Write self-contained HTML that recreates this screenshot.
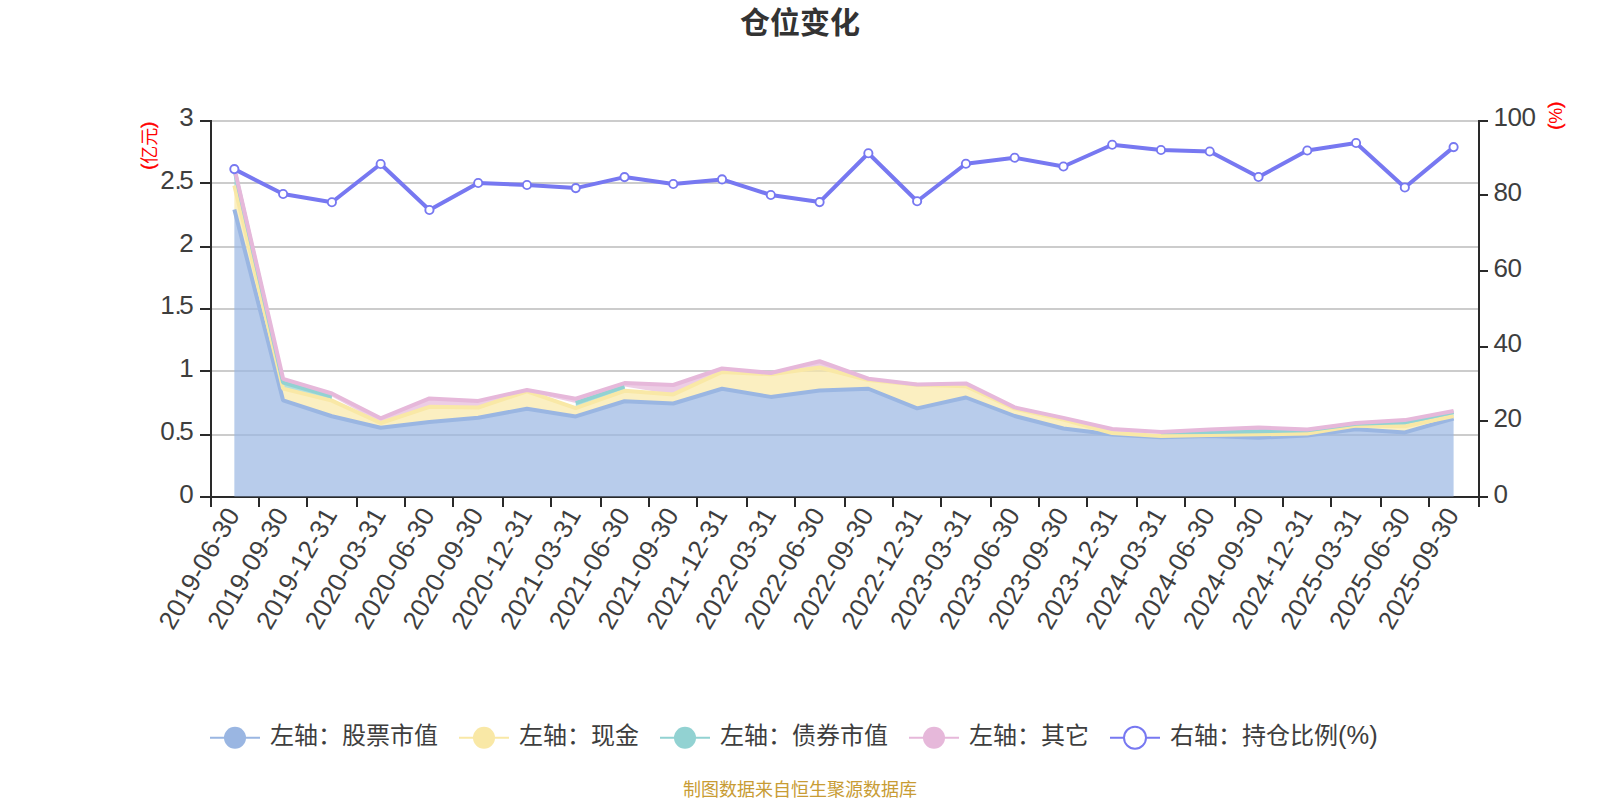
<!DOCTYPE html>
<html lang="zh-CN">
<head>
<meta charset="utf-8">
<title>仓位变化</title>
<style>
html,body{margin:0;padding:0;background:#fff;}
body{width:1600px;height:800px;overflow:hidden;font-family:"Liberation Sans","Noto Sans CJK SC",sans-serif;}
svg{display:block;}
text{font-family:"Liberation Sans","Noto Sans CJK SC",sans-serif;}
.ax{font-size:26px;fill:#3e3e3e;}
.xl{letter-spacing:0.2px;}
.lg{font-size:24px;fill:#3e3e3e;}
.ttl{font-size:30px;font-weight:bold;fill:#333;}
.unit{font-size:18px;fill:#f00;}
.ft{font-size:18px;fill:#c89c34;}
</style>
</head>
<body>
<svg width="1600" height="800" viewBox="0 0 1600 800">
<rect width="1600" height="800" fill="#fff"/>
<text x="800" y="33" text-anchor="middle" class="ttl">仓位变化</text>
<g id="grid">
<line x1="210" x2="1478" y1="121" y2="121" stroke="#ccc" stroke-width="2"/>
<line x1="210" x2="1478" y1="183" y2="183" stroke="#ccc" stroke-width="2"/>
<line x1="210" x2="1478" y1="247" y2="247" stroke="#ccc" stroke-width="2"/>
<line x1="210" x2="1478" y1="309" y2="309" stroke="#ccc" stroke-width="2"/>
<line x1="210" x2="1478" y1="371" y2="371" stroke="#ccc" stroke-width="2"/>
<line x1="210" x2="1478" y1="435" y2="435" stroke="#ccc" stroke-width="2"/>
</g>
<g id="axes">
<line x1="211" x2="211" y1="120" y2="498" stroke="#2a2a2a" stroke-width="2"/>
<line x1="1479" x2="1479" y1="120" y2="498" stroke="#2a2a2a" stroke-width="2"/>
<line x1="200" x2="1488" y1="497" y2="497" stroke="#2a2a2a" stroke-width="2"/>
<line x1="200" x2="211" y1="121" y2="121" stroke="#2a2a2a" stroke-width="2"/>
<line x1="200" x2="211" y1="183" y2="183" stroke="#2a2a2a" stroke-width="2"/>
<line x1="200" x2="211" y1="247" y2="247" stroke="#2a2a2a" stroke-width="2"/>
<line x1="200" x2="211" y1="309" y2="309" stroke="#2a2a2a" stroke-width="2"/>
<line x1="200" x2="211" y1="371" y2="371" stroke="#2a2a2a" stroke-width="2"/>
<line x1="200" x2="211" y1="435" y2="435" stroke="#2a2a2a" stroke-width="2"/>
<line x1="1479" x2="1488" y1="121" y2="121" stroke="#2a2a2a" stroke-width="2"/>
<line x1="1479" x2="1488" y1="195" y2="195" stroke="#2a2a2a" stroke-width="2"/>
<line x1="1479" x2="1488" y1="271" y2="271" stroke="#2a2a2a" stroke-width="2"/>
<line x1="1479" x2="1488" y1="347" y2="347" stroke="#2a2a2a" stroke-width="2"/>
<line x1="1479" x2="1488" y1="421" y2="421" stroke="#2a2a2a" stroke-width="2"/>
<line x1="211" x2="211" y1="497" y2="507" stroke="#2a2a2a" stroke-width="2"/>
<line x1="259" x2="259" y1="497" y2="507" stroke="#2a2a2a" stroke-width="2"/>
<line x1="307" x2="307" y1="497" y2="507" stroke="#2a2a2a" stroke-width="2"/>
<line x1="357" x2="357" y1="497" y2="507" stroke="#2a2a2a" stroke-width="2"/>
<line x1="405" x2="405" y1="497" y2="507" stroke="#2a2a2a" stroke-width="2"/>
<line x1="453" x2="453" y1="497" y2="507" stroke="#2a2a2a" stroke-width="2"/>
<line x1="503" x2="503" y1="497" y2="507" stroke="#2a2a2a" stroke-width="2"/>
<line x1="551" x2="551" y1="497" y2="507" stroke="#2a2a2a" stroke-width="2"/>
<line x1="601" x2="601" y1="497" y2="507" stroke="#2a2a2a" stroke-width="2"/>
<line x1="649" x2="649" y1="497" y2="507" stroke="#2a2a2a" stroke-width="2"/>
<line x1="697" x2="697" y1="497" y2="507" stroke="#2a2a2a" stroke-width="2"/>
<line x1="747" x2="747" y1="497" y2="507" stroke="#2a2a2a" stroke-width="2"/>
<line x1="795" x2="795" y1="497" y2="507" stroke="#2a2a2a" stroke-width="2"/>
<line x1="845" x2="845" y1="497" y2="507" stroke="#2a2a2a" stroke-width="2"/>
<line x1="893" x2="893" y1="497" y2="507" stroke="#2a2a2a" stroke-width="2"/>
<line x1="941" x2="941" y1="497" y2="507" stroke="#2a2a2a" stroke-width="2"/>
<line x1="991" x2="991" y1="497" y2="507" stroke="#2a2a2a" stroke-width="2"/>
<line x1="1039" x2="1039" y1="497" y2="507" stroke="#2a2a2a" stroke-width="2"/>
<line x1="1087" x2="1087" y1="497" y2="507" stroke="#2a2a2a" stroke-width="2"/>
<line x1="1137" x2="1137" y1="497" y2="507" stroke="#2a2a2a" stroke-width="2"/>
<line x1="1185" x2="1185" y1="497" y2="507" stroke="#2a2a2a" stroke-width="2"/>
<line x1="1235" x2="1235" y1="497" y2="507" stroke="#2a2a2a" stroke-width="2"/>
<line x1="1283" x2="1283" y1="497" y2="507" stroke="#2a2a2a" stroke-width="2"/>
<line x1="1331" x2="1331" y1="497" y2="507" stroke="#2a2a2a" stroke-width="2"/>
<line x1="1381" x2="1381" y1="497" y2="507" stroke="#2a2a2a" stroke-width="2"/>
<line x1="1429" x2="1429" y1="497" y2="507" stroke="#2a2a2a" stroke-width="2"/>
<line x1="1479" x2="1479" y1="497" y2="507" stroke="#2a2a2a" stroke-width="2"/>
</g>
<g id="areas">
<polygon points="234.35,209.5 283.12,400.4 331.89,416.25 380.66,427.7 429.43,422.1 478.2,417.7 526.97,408.75 575.74,416.4 624.51,401.25 673.28,403.5 722.05,388.75 770.82,396.9 819.59,390.6 868.36,388.75 917.13,408.4 965.9,397.5 1014.67,416 1063.44,428.5 1112.21,434.5 1160.98,437.3 1209.75,436 1258.52,437.7 1307.29,435.5 1356.06,429.3 1404.83,432.4 1453.6,418.5 1453.6,496.4 1404.83,496.4 1356.06,496.4 1307.29,496.4 1258.52,496.4 1209.75,496.4 1160.98,496.4 1112.21,496.4 1063.44,496.4 1014.67,496.4 965.9,496.4 917.13,496.4 868.36,496.4 819.59,496.4 770.82,496.4 722.05,496.4 673.28,496.4 624.51,496.4 575.74,496.4 526.97,496.4 478.2,496.4 429.43,496.4 380.66,496.4 331.89,496.4 283.12,496.4 234.35,496.4" fill="#9ab6e2" fill-opacity="0.7"/>
<polygon points="234.35,185.5 283.12,388.6 331.89,400.6 380.66,423 429.43,406.8 478.2,407.5 526.97,391.4 575.74,408.1 624.51,390.8 673.28,394.4 722.05,371.9 770.82,374.3 819.59,367.5 868.36,380 917.13,384.8 965.9,386.25 1014.67,408.6 1063.44,419.5 1112.21,433 1160.98,436.1 1209.75,434.9 1258.52,434.3 1307.29,433.6 1356.06,425.5 1404.83,426.2 1453.6,416.1 1453.6,418.5 1404.83,432.4 1356.06,429.3 1307.29,435.5 1258.52,437.7 1209.75,436 1160.98,437.3 1112.21,434.5 1063.44,428.5 1014.67,416 965.9,397.5 917.13,408.4 868.36,388.75 819.59,390.6 770.82,396.9 722.05,388.75 673.28,403.5 624.51,401.25 575.74,416.4 526.97,408.75 478.2,417.7 429.43,422.1 380.66,427.7 331.89,416.25 283.12,400.4 234.35,209.5" fill="#f9e8a6" fill-opacity="0.7"/>
<polygon points="234.35,169.5 283.12,382.6 331.89,396.5 331.89,400.6 283.12,388.6 234.35,185.5" fill="#92d2d2" fill-opacity="0.7"/>
<polygon points="575.74,403 624.51,386.6 624.51,390.8 575.74,408.1" fill="#92d2d2" fill-opacity="0.7"/>
<polygon points="1160.98,432.3 1209.75,432 1258.52,431.2 1307.29,430.3 1356.06,423.8 1404.83,422.3 1453.6,412 1453.6,416.1 1404.83,426.2 1356.06,425.5 1307.29,433.6 1258.52,434.3 1209.75,434.9 1160.98,436.1" fill="#92d2d2" fill-opacity="0.7"/>
<polygon points="234.35,168 283.12,378.8 331.89,393.5 380.66,418.3 429.43,398.4 478.2,400.9 526.97,390 575.74,398.75 624.51,383.1 673.28,385 722.05,368.5 770.82,373 819.59,361.25 868.36,378.75 917.13,384.4 965.9,383.4 1014.67,407.4 1063.44,417.9 1112.21,429 1160.98,432.1 1209.75,429.5 1258.52,427.5 1307.29,429.5 1356.06,423.1 1404.83,420.1 1453.6,411 1453.6,412 1404.83,422.3 1356.06,423.8 1307.29,430.3 1258.52,431.2 1209.75,432 1160.98,432.3 1112.21,433 1063.44,419.5 1014.67,408.6 965.9,386.25 917.13,384.8 868.36,380 819.59,367.5 770.82,374.3 722.05,371.9 673.28,394.4 624.51,386.6 575.74,403 526.97,391.4 478.2,407.5 429.43,406.8 380.66,423 331.89,396.5 283.12,382.6 234.35,169.5" fill="#e6b8da" fill-opacity="0.7"/>
<polyline points="234.35,209.5 283.12,400.4 331.89,416.25 380.66,427.7 429.43,422.1 478.2,417.7 526.97,408.75 575.74,416.4 624.51,401.25 673.28,403.5 722.05,388.75 770.82,396.9 819.59,390.6 868.36,388.75 917.13,408.4 965.9,397.5 1014.67,416 1063.44,428.5 1112.21,434.5 1160.98,437.3 1209.75,436 1258.52,437.7 1307.29,435.5 1356.06,429.3 1404.83,432.4 1453.6,418.5" fill="none" stroke="#9ab6e2" stroke-width="4" stroke-linejoin="bevel"/>
<polyline points="234.35,185.5 283.12,388.6 331.89,400.6 380.66,423 429.43,406.8 478.2,407.5 526.97,391.4 575.74,408.1 624.51,390.8 673.28,394.4 722.05,371.9 770.82,374.3 819.59,367.5 868.36,380 917.13,384.8 965.9,386.25 1014.67,408.6 1063.44,419.5 1112.21,433 1160.98,436.1 1209.75,434.9 1258.52,434.3 1307.29,433.6 1356.06,425.5 1404.83,426.2 1453.6,416.1" fill="none" stroke="#f9e8a6" stroke-width="4" stroke-linejoin="bevel"/>
<polyline points="234.35,169.5 283.12,382.6 331.89,396.5" fill="none" stroke="#92d2d2" stroke-width="4" stroke-linejoin="bevel"/>
<polyline points="575.74,403 624.51,386.6" fill="none" stroke="#92d2d2" stroke-width="4" stroke-linejoin="bevel"/>
<polyline points="1160.98,432.3 1209.75,432 1258.52,431.2 1307.29,430.3 1356.06,423.8 1404.83,422.3 1453.6,412" fill="none" stroke="#92d2d2" stroke-width="4" stroke-linejoin="bevel"/>
<polyline points="234.35,168 283.12,378.8 331.89,393.5 380.66,418.3 429.43,398.4 478.2,400.9 526.97,390 575.74,398.75 624.51,383.1 673.28,385 722.05,368.5 770.82,373 819.59,361.25 868.36,378.75 917.13,384.4 965.9,383.4 1014.67,407.4 1063.44,417.9 1112.21,429 1160.98,432.1 1209.75,429.5 1258.52,427.5 1307.29,429.5 1356.06,423.1 1404.83,420.1 1453.6,411" fill="none" stroke="#e6b8da" stroke-width="4" stroke-linejoin="bevel"/>
</g>
<g id="ratio">
<polyline points="234.35,169.1 283.12,194 331.89,202.25 380.66,164 429.43,210 478.2,183 526.97,185 575.74,188.1 624.51,177.1 673.28,184 722.05,179.4 770.82,195 819.59,202.1 868.36,153.25 917.13,201.25 965.9,163.75 1014.67,157.75 1063.44,166.5 1112.21,144.75 1160.98,150 1209.75,151.5 1258.52,177 1307.29,150.5 1356.06,143 1404.83,187.5 1453.6,147.1" fill="none" stroke="#7778f1" stroke-width="4" stroke-linejoin="bevel"/>
<circle cx="234.35" cy="169.1" r="4.1" fill="#fff" stroke="#7778f1" stroke-width="1.9"/>
<circle cx="283.12" cy="194" r="4.1" fill="#fff" stroke="#7778f1" stroke-width="1.9"/>
<circle cx="331.89" cy="202.25" r="4.1" fill="#fff" stroke="#7778f1" stroke-width="1.9"/>
<circle cx="380.66" cy="164" r="4.1" fill="#fff" stroke="#7778f1" stroke-width="1.9"/>
<circle cx="429.43" cy="210" r="4.1" fill="#fff" stroke="#7778f1" stroke-width="1.9"/>
<circle cx="478.2" cy="183" r="4.1" fill="#fff" stroke="#7778f1" stroke-width="1.9"/>
<circle cx="526.97" cy="185" r="4.1" fill="#fff" stroke="#7778f1" stroke-width="1.9"/>
<circle cx="575.74" cy="188.1" r="4.1" fill="#fff" stroke="#7778f1" stroke-width="1.9"/>
<circle cx="624.51" cy="177.1" r="4.1" fill="#fff" stroke="#7778f1" stroke-width="1.9"/>
<circle cx="673.28" cy="184" r="4.1" fill="#fff" stroke="#7778f1" stroke-width="1.9"/>
<circle cx="722.05" cy="179.4" r="4.1" fill="#fff" stroke="#7778f1" stroke-width="1.9"/>
<circle cx="770.82" cy="195" r="4.1" fill="#fff" stroke="#7778f1" stroke-width="1.9"/>
<circle cx="819.59" cy="202.1" r="4.1" fill="#fff" stroke="#7778f1" stroke-width="1.9"/>
<circle cx="868.36" cy="153.25" r="4.1" fill="#fff" stroke="#7778f1" stroke-width="1.9"/>
<circle cx="917.13" cy="201.25" r="4.1" fill="#fff" stroke="#7778f1" stroke-width="1.9"/>
<circle cx="965.9" cy="163.75" r="4.1" fill="#fff" stroke="#7778f1" stroke-width="1.9"/>
<circle cx="1014.67" cy="157.75" r="4.1" fill="#fff" stroke="#7778f1" stroke-width="1.9"/>
<circle cx="1063.44" cy="166.5" r="4.1" fill="#fff" stroke="#7778f1" stroke-width="1.9"/>
<circle cx="1112.21" cy="144.75" r="4.1" fill="#fff" stroke="#7778f1" stroke-width="1.9"/>
<circle cx="1160.98" cy="150" r="4.1" fill="#fff" stroke="#7778f1" stroke-width="1.9"/>
<circle cx="1209.75" cy="151.5" r="4.1" fill="#fff" stroke="#7778f1" stroke-width="1.9"/>
<circle cx="1258.52" cy="177" r="4.1" fill="#fff" stroke="#7778f1" stroke-width="1.9"/>
<circle cx="1307.29" cy="150.5" r="4.1" fill="#fff" stroke="#7778f1" stroke-width="1.9"/>
<circle cx="1356.06" cy="143" r="4.1" fill="#fff" stroke="#7778f1" stroke-width="1.9"/>
<circle cx="1404.83" cy="187.5" r="4.1" fill="#fff" stroke="#7778f1" stroke-width="1.9"/>
<circle cx="1453.6" cy="147.1" r="4.1" fill="#fff" stroke="#7778f1" stroke-width="1.9"/>
</g>
<g id="labels">
<text x="193.8" y="126.2" text-anchor="end" class="ax">3</text>
<text x="193.8" y="188.95" text-anchor="end" class="ax">2.<tspan dx="-2.5">5</tspan></text>
<text x="193.8" y="251.7" text-anchor="end" class="ax">2</text>
<text x="193.8" y="314.45" text-anchor="end" class="ax">1.<tspan dx="-2.5">5</tspan></text>
<text x="193.8" y="377.2" text-anchor="end" class="ax">1</text>
<text x="193.8" y="439.95" text-anchor="end" class="ax">0.<tspan dx="-2.5">5</tspan></text>
<text x="193.8" y="502.7" text-anchor="end" class="ax">0</text>
<text x="1493.4" y="126" class="ax" letter-spacing="-0.4">100</text>
<text x="1493.4" y="201.3" class="ax" letter-spacing="-0.4">80</text>
<text x="1493.4" y="276.6" class="ax" letter-spacing="-0.4">60</text>
<text x="1493.4" y="351.9" class="ax" letter-spacing="-0.4">40</text>
<text x="1493.4" y="427.2" class="ax" letter-spacing="-0.4">20</text>
<text x="1493.4" y="502.5" class="ax" letter-spacing="-0.4">0</text>
<text transform="translate(234.35,509.6) rotate(-60)" x="-0.95" y="7.7" text-anchor="end" class="ax xl">2019-06-30</text>
<text transform="translate(283.12,509.6) rotate(-60)" x="-0.95" y="7.7" text-anchor="end" class="ax xl">2019-09-30</text>
<text transform="translate(331.89,509.6) rotate(-60)" x="-0.95" y="7.7" text-anchor="end" class="ax xl">2019-12-31</text>
<text transform="translate(380.66,509.6) rotate(-60)" x="-0.95" y="7.7" text-anchor="end" class="ax xl">2020-03-31</text>
<text transform="translate(429.43,509.6) rotate(-60)" x="-0.95" y="7.7" text-anchor="end" class="ax xl">2020-06-30</text>
<text transform="translate(478.2,509.6) rotate(-60)" x="-0.95" y="7.7" text-anchor="end" class="ax xl">2020-09-30</text>
<text transform="translate(526.97,509.6) rotate(-60)" x="-0.95" y="7.7" text-anchor="end" class="ax xl">2020-12-31</text>
<text transform="translate(575.74,509.6) rotate(-60)" x="-0.95" y="7.7" text-anchor="end" class="ax xl">2021-03-31</text>
<text transform="translate(624.51,509.6) rotate(-60)" x="-0.95" y="7.7" text-anchor="end" class="ax xl">2021-06-30</text>
<text transform="translate(673.28,509.6) rotate(-60)" x="-0.95" y="7.7" text-anchor="end" class="ax xl">2021-09-30</text>
<text transform="translate(722.05,509.6) rotate(-60)" x="-0.95" y="7.7" text-anchor="end" class="ax xl">2021-12-31</text>
<text transform="translate(770.82,509.6) rotate(-60)" x="-0.95" y="7.7" text-anchor="end" class="ax xl">2022-03-31</text>
<text transform="translate(819.59,509.6) rotate(-60)" x="-0.95" y="7.7" text-anchor="end" class="ax xl">2022-06-30</text>
<text transform="translate(868.36,509.6) rotate(-60)" x="-0.95" y="7.7" text-anchor="end" class="ax xl">2022-09-30</text>
<text transform="translate(917.13,509.6) rotate(-60)" x="-0.95" y="7.7" text-anchor="end" class="ax xl">2022-12-31</text>
<text transform="translate(965.9,509.6) rotate(-60)" x="-0.95" y="7.7" text-anchor="end" class="ax xl">2023-03-31</text>
<text transform="translate(1014.67,509.6) rotate(-60)" x="-0.95" y="7.7" text-anchor="end" class="ax xl">2023-06-30</text>
<text transform="translate(1063.44,509.6) rotate(-60)" x="-0.95" y="7.7" text-anchor="end" class="ax xl">2023-09-30</text>
<text transform="translate(1112.21,509.6) rotate(-60)" x="-0.95" y="7.7" text-anchor="end" class="ax xl">2023-12-31</text>
<text transform="translate(1160.98,509.6) rotate(-60)" x="-0.95" y="7.7" text-anchor="end" class="ax xl">2024-03-31</text>
<text transform="translate(1209.75,509.6) rotate(-60)" x="-0.95" y="7.7" text-anchor="end" class="ax xl">2024-06-30</text>
<text transform="translate(1258.52,509.6) rotate(-60)" x="-0.95" y="7.7" text-anchor="end" class="ax xl">2024-09-30</text>
<text transform="translate(1307.29,509.6) rotate(-60)" x="-0.95" y="7.7" text-anchor="end" class="ax xl">2024-12-31</text>
<text transform="translate(1356.06,509.6) rotate(-60)" x="-0.95" y="7.7" text-anchor="end" class="ax xl">2025-03-31</text>
<text transform="translate(1404.83,509.6) rotate(-60)" x="-0.95" y="7.7" text-anchor="end" class="ax xl">2025-06-30</text>
<text transform="translate(1453.6,509.6) rotate(-60)" x="-0.95" y="7.7" text-anchor="end" class="ax xl">2025-09-30</text>
</g>
<text transform="translate(156.1,145.8) rotate(-90)" text-anchor="middle" class="unit"><tspan dy="-2" stroke="#f00" stroke-width="0.6">(</tspan><tspan dy="2">亿元</tspan><tspan dy="-2" stroke="#f00" stroke-width="0.6">)</tspan></text>
<text transform="translate(1551.7,115.8) rotate(90)" text-anchor="middle" class="unit"><tspan stroke="#f00" stroke-width="0.6">(</tspan><tspan dy="2.2">%</tspan><tspan dy="-2.2" stroke="#f00" stroke-width="0.6">)</tspan></text>
<g id="legend">
<line x1="210" x2="260" y1="737.75" y2="737.75" stroke="#9ab6e2" stroke-width="2"/>
<circle cx="235" cy="737.75" r="11" fill="#9ab6e2"/>
<text x="270" y="744.2" class="lg">左轴：股票市值</text>
<line x1="459" x2="509" y1="737.75" y2="737.75" stroke="#f9e8a6" stroke-width="2"/>
<circle cx="484" cy="737.75" r="11" fill="#f9e8a6"/>
<text x="519" y="744.2" class="lg">左轴：现金</text>
<line x1="660" x2="710" y1="737.75" y2="737.75" stroke="#92d2d2" stroke-width="2"/>
<circle cx="685" cy="737.75" r="11" fill="#92d2d2"/>
<text x="720" y="744.2" class="lg">左轴：债券市值</text>
<line x1="909" x2="959" y1="737.75" y2="737.75" stroke="#e6b8da" stroke-width="2"/>
<circle cx="934" cy="737.75" r="11" fill="#e6b8da"/>
<text x="969" y="744.2" class="lg">左轴：其它</text>
<line x1="1110" x2="1160" y1="737.75" y2="737.75" stroke="#7778f1" stroke-width="2"/>
<circle cx="1135" cy="737.75" r="11" fill="#fff" stroke="#7778f1" stroke-width="2"/>
<text x="1170" y="744.2" class="lg">右轴：持仓比例<tspan font-size="25.5">(%)</tspan></text>
</g>
<text x="800" y="796" text-anchor="middle" class="ft">制图数据来自恒生聚源数据库</text>
</svg>
</body>
</html>
